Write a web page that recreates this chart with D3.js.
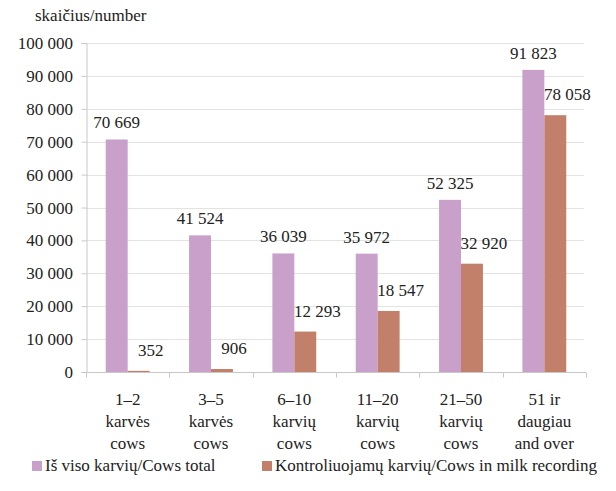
<!DOCTYPE html>
<html>
<head>
<meta charset="utf-8">
<script src="https://cdn.jsdelivr.net/npm/d3@7"></script>
</head>
<body style="margin:0">
<script>
// data
var categories = [
    ["1–2", "karvės", "cows"],
    ["3–5", "karvės", "cows"],
    ["6–10", "karvių", "cows"],
    ["11–20", "karvių", "cows"],
    ["21–50", "karvių", "cows"],
    ["51 ir", "daugiau", "and over"]
];
var cowsTotal = [70669, 41524, 36039, 35972, 52325, 91823];
var cowsRecorded = [352, 906, 12293, 18547, 32920, 78058];
var seriesNames = ["Iš viso karvių/Cows total", "Kontroliuojamų karvių/Cows in milk recording"];
var yTicks = [0, 10000, 20000, 30000, 40000, 50000, 60000, 70000, 80000, 90000, 100000];

var width = 616, height = 491;
var margin = {left: 86, right: 30, top: 43, bottom: 119};
var colors = ["#c8a0ca", "#c2806a"];
var serif = "'Liberation Serif', 'Times New Roman', Times, serif";

var svg = d3.select("body").append("svg")
    .attr("width", width)
    .attr("height", height)
    .style("font-family", serif);

var x = d3.scaleBand()
    .domain(d3.range(categories.length))
    .range([margin.left, 586])
    .paddingInner(0)
    .paddingOuter(0);

var y = d3.scaleLinear()
    .domain([0, 100000])
    .range([height - margin.bottom, margin.top]);

var fmt = function(v) { return d3.format(",")(v).replace(/,/g, " "); };

function label(sel) {
    return sel.style("font-family", serif).attr("font-size", 17).style("fill", "#222");
}

// gridlines
svg.append("g")
    .selectAll("line")
    .data(yTicks.slice(1))
    .enter().append("line")
    .attr("x1", margin.left)
    .attr("x2", 584)
    .attr("y1", function(d) { return Math.round(y(d)) + 0.5; })
    .attr("y2", function(d) { return Math.round(y(d)) + 0.5; })
    .attr("stroke", "#e3e3e3")
    .attr("stroke-width", 1);

// y axis (line and ticks via the axis, labels drawn separately)
var yAxis = svg.append("g")
    .attr("transform", "translate(" + (margin.left + 0.5) + ",0)")
    .call(d3.axisLeft(y).tickValues(yTicks).tickSize(5).tickFormat(""));
yAxis.select(".domain").attr("stroke", "#c8c8c8");
yAxis.selectAll(".tick line").attr("stroke", "#c8c8c8");

svg.append("g")
    .selectAll("text")
    .data(yTicks)
    .enter().append("text")
    .attr("x", 73)
    .attr("y", function(d) { return y(d) + 6; })
    .attr("text-anchor", "end")
    .text(fmt)
    .call(label);

// bars
var sub = d3.scaleBand()
    .domain([0, 1])
    .range([0, x.bandwidth()])
    .paddingOuter(0.9)
    .paddingInner(0);

var series = [cowsTotal, cowsRecorded];
series.forEach(function(vals, si) {
    svg.append("g")
        .selectAll("rect")
        .data(vals)
        .enter().append("rect")
        .attr("x", function(d, i) { return x(i) + sub(si); })
        .attr("width", sub.bandwidth())
        .attr("y", function(d) { return y(d); })
        .attr("height", function(d) { return y(0) - y(d); })
        .attr("fill", colors[si]);

    svg.append("g")
        .selectAll("text")
        .data(vals)
        .enter().append("text")
        .attr("x", function(d, i) { return x(i) + sub(si) + sub.bandwidth() / 2 + (si === 1 ? 12 : 0); })
        .attr("y", function(d) { return y(d) - (si === 1 ? 15 : 11); })
        .attr("text-anchor", "middle")
        .text(fmt)
        .call(label);
});

// x axis
var xAxisG = svg.append("g")
    .attr("transform", "translate(0," + (y(0) + 0.5) + ")");
xAxisG.append("line")
    .attr("x1", margin.left).attr("x2", 586)
    .attr("stroke", "#c8c8c8");
xAxisG.selectAll(".xt")
    .data(d3.range(categories.length + 1))
    .enter().append("line")
    .attr("x1", function(d) { return Math.round(margin.left + d * x.bandwidth()) + 0.5; })
    .attr("x2", function(d) { return Math.round(margin.left + d * x.bandwidth()) + 0.5; })
    .attr("y1", 0).attr("y2", 5)
    .attr("stroke", "#c8c8c8");

var catLabels = svg.append("g")
    .selectAll("text")
    .data(categories)
    .enter().append("text")
    .attr("text-anchor", "middle")
    .attr("x", function(d, i) { return x(i) + x.bandwidth() / 2; })
    .call(label);
catLabels.selectAll("tspan")
    .data(function(d) { return d; })
    .enter().append("tspan")
    .attr("x", function() { return this.parentNode.getAttribute("x"); })
    .attr("y", function(d, j) { return 405 + j * 22; })
    .text(function(d) { return d; });

// title
svg.append("text")
    .attr("x", 35)
    .attr("y", 21)
    .text("skaičius/number")
    .call(label);

// legend
var legendX = [32, 262];
var legend = svg.append("g")
    .selectAll("g")
    .data(seriesNames)
    .enter().append("g")
    .attr("transform", function(d, i) { return "translate(" + legendX[i] + ",461)"; });
legend.append("rect")
    .attr("width", 10).attr("height", 10)
    .attr("fill", function(d, i) { return colors[i]; });
legend.append("text")
    .attr("x", 13)
    .attr("y", 10)
    .text(function(d) { return d; })
    .call(label);
</script>
</body>
</html>
